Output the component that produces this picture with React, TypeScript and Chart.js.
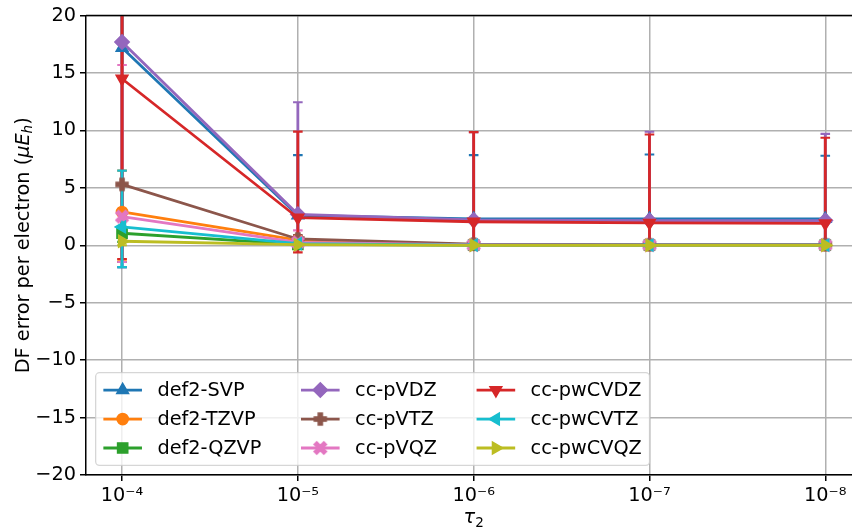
import React, { useEffect, useRef } from 'react';
import { Chart, registerables, PointElement } from 'chart.js';

Chart.register(...registerables);

const FONT = "'DejaVu Sans', sans-serif";
const FS = 19.3;

// ---- data ----
const tauValues = [1e-4, 1e-5, 1e-6, 1e-7, 1e-8];
const tauLabels = ['10\u207B\u2074', '10\u207B\u2075', '10\u207B\u2076', '10\u207B\u2077', '10\u207B\u2078'];
const yTickValues = [-20, -15, -10, -5, 0, 5, 10, 15, 20];
const xAxisLimits = [10 ** -8.152, 10 ** -3.795];
const yAxisLimits = [-20, 20];

const seriesNames = ['def2-SVP', 'def2-TZVP', 'def2-QZVP', 'cc-pVDZ', 'cc-pVTZ', 'cc-pVQZ', 'cc-pwCVDZ', 'cc-pwCVTZ', 'cc-pwCVQZ'];

const svpMean = [17.2, 2.6, 2.3, 2.3, 2.3];
const svpLow = [-1.9, 0.05, 0.05, 0.05, 0.05];
const svpHigh = [24, 7.85, 7.85, 7.9, 7.8];

const tzvpMean = [2.9, 0.45, 0.04, 0.02, 0.02];
const tzvpLow = [-1.25, 0.0, 0.0, 0.0, 0.0];
const tzvpHigh = [6.5, 0.8, 0.15, 0.1, 0.1];

const qzvpMean = [1.05, 0.08, 0.02, 0.01, 0.01];
const qzvpLow = [0.3, 0.0, 0.0, 0.0, 0.0];
const qzvpHigh = [1.6, 0.3, 0.05, 0.03, 0.03];

const pvdzMean = [17.7, 2.7, 2.2, 2.15, 2.15];
const pvdzLow = [-1.9, 0.05, 0.05, 0.05, 0.05];
const pvdzHigh = [26, 12.45, 9.85, 9.88, 9.7];

const pvtzMean = [5.3, 0.55, 0.1, 0.05, 0.05];
const pvtzLow = [-1.45, 0.0, 0.0, 0.0, 0.0];
const pvtzHigh = [22, 0.9, 0.3, 0.2, 0.2];

const pvqzMean = [2.5, 0.25, 0.03, 0.02, 0.02];
const pvqzLow = [-1.45, -0.1, 0.0, 0.0, 0.0];
const pvqzHigh = [15.7, 1.3, 0.2, 0.1, 0.1];

const pwcvdzMean = [14.5, 2.4, 2.05, 1.95, 1.9];
const pwcvdzLow = [-1.2, -0.62, 0.05, 0.05, 0.05];
const pwcvdzHigh = [30, 9.9, 9.85, 9.65, 9.36];

const pwcvtzMean = [1.6, 0.15, 0.02, 0.01, 0.01];
const pwcvtzLow = [-1.9, 0.0, 0.0, 0.0, 0.0];
const pwcvtzHigh = [6.5, 0.5, 0.05, 0.03, 0.03];

const pwcvqzMean = [0.35, 0.05, 0.0, 0.0, 0.0];
const pwcvqzLow = [0.0, 0.0, -0.02, 0.0, 0.0];
const pwcvqzHigh = [0.7, 0.2, 0.03, 0.02, 0.02];

const seriesMeans = [svpMean, tzvpMean, qzvpMean, pvdzMean, pvtzMean, pvqzMean, pwcvdzMean, pwcvtzMean, pwcvqzMean];
const seriesLows = [svpLow, tzvpLow, qzvpLow, pvdzLow, pvtzLow, pvqzLow, pwcvdzLow, pwcvtzLow, pwcvqzLow];
const seriesHighs = [svpHigh, tzvpHigh, qzvpHigh, pvdzHigh, pvtzHigh, pvqzHigh, pwcvdzHigh, pwcvtzHigh, pwcvqzHigh];

// ---- styles ----
const seriesColors = ['#1f77b4', '#ff7f0e', '#2ca02c', '#9467bd', '#8c564b', '#e377c2', '#d62728', '#17becf', '#bcbd22'];
const seriesMarkers = ['triangle', 'circle', 'rect', 'rectRot', 'plus', 'x', 'triangle', 'triangle', 'triangle'];
const markerRotation = [0, 0, 0, 0, 0, 0, 180, 270, 90];
const markerRadius = [6.8, 5.6, 7.2, 7.2, 6, 6, 6.8, 6.8, 6.8];
const LINE_W = 2.8;

function makeFilledMarker(color: string, kind: string) {
  const c = document.createElement('canvas');
  c.width = 18;
  c.height = 18;
  const g = c.getContext('2d')!;
  g.fillStyle = color;
  g.translate(9, 9);
  if (kind === 'x') g.rotate(Math.PI / 4);
  const L = kind === 'x' ? 7.6 : 6.7;
  const t = kind === 'x' ? 2.6 : 2.8;
  g.fillRect(-L, -t, 2 * L, 2 * t);
  g.fillRect(-t, -L, 2 * t, 2 * L);
  return c;
}

const errorBarPlugin = {
  id: 'errorBars',
  beforeDatasetsDraw(chart: any) {
    const { ctx, chartArea: a, scales } = chart;
    const xs = scales.x;
    const ys = scales.y;
    ctx.save();
    ctx.beginPath();
    ctx.rect(a.left, a.top, a.right - a.left, a.bottom - a.top);
    ctx.clip();
    chart.data.datasets.forEach((ds: any) => {
      ds.data.forEach((pt: any, j: number) => {
        const x = xs.getPixelForValue(pt.x);
        const yl = ys.getPixelForValue(ds.errLow[j]);
        const yh = ys.getPixelForValue(ds.errHigh[j]);
        ctx.strokeStyle = ds.borderColor;
        ctx.lineWidth = LINE_W;
        ctx.beginPath();
        ctx.moveTo(x, yl);
        ctx.lineTo(x, yh);
        ctx.stroke();
        ctx.lineWidth = 2.1;
        ctx.beginPath();
        ctx.moveTo(x - 4.8, yl);
        ctx.lineTo(x + 4.8, yl);
        ctx.moveTo(x - 4.8, yh);
        ctx.lineTo(x + 4.8, yh);
        ctx.stroke();
      });
    });
    ctx.restore();
  },
};

const framePlugin = {
  id: 'frameAndLabels',
  afterDatasetsDraw(chart: any) {
    const { ctx, chartArea: a } = chart;
    ctx.save();
    ctx.strokeStyle = '#000';
    ctx.lineWidth = 1.5;
    ctx.beginPath();
    ctx.moveTo(a.left, a.top);
    ctx.lineTo(a.right, a.top);
    ctx.stroke();

    // legend (matplotlib-like geometry, 3 columns, column-major)
    const datasets = chart.data.datasets;
    ctx.font = `${FS}px ${FONT}`;
    const pad = 0.4 * FS;
    const hl = 2 * FS;
    const htp = 0.8 * FS;
    const cs = 2.05 * FS;
    const ls = 0.5 * FS;
    const rowH = 1.0 * FS;
    const nRows = 3;
    const nCols = Math.ceil(datasets.length / nRows);
    const colW: number[] = [];
    for (let c = 0; c < nCols; c++) {
      let w = 0;
      for (let r = 0; r < nRows; r++) {
        const ds = datasets[c * nRows + r];
        if (ds) w = Math.max(w, ctx.measureText(ds.label).width);
      }
      colW.push(w);
    }
    const boxL = a.left + 0.5 * FS;
    const boxB = a.bottom - 0.5 * FS;
    const boxH = 2 * pad + nRows * rowH + (nRows - 1) * ls;
    const boxT = boxB - boxH;
    const colStart: number[] = [];
    let cx = boxL + pad;
    for (let c = 0; c < nCols; c++) {
      colStart.push(cx);
      cx += hl + htp + colW[c] + (c < nCols - 1 ? cs : 0);
    }
    const boxW = cx + pad - boxL;
    const r = 0.2 * FS;
    ctx.beginPath();
    ctx.moveTo(boxL + r, boxT);
    ctx.arcTo(boxL + boxW, boxT, boxL + boxW, boxT + boxH, r);
    ctx.arcTo(boxL + boxW, boxT + boxH, boxL, boxT + boxH, r);
    ctx.arcTo(boxL, boxT + boxH, boxL, boxT, r);
    ctx.arcTo(boxL, boxT, boxL + boxW, boxT, r);
    ctx.closePath();
    ctx.fillStyle = 'rgba(255,255,255,0.8)';
    ctx.fill();
    ctx.strokeStyle = 'rgba(204,204,204,0.8)';
    ctx.lineWidth = 1.3;
    ctx.stroke();

    datasets.forEach((ds: any, i: number) => {
      const col = Math.floor(i / nRows);
      const row = i % nRows;
      const x0 = colStart[col];
      const y0 = boxT + pad + rowH / 2 + row * (rowH + ls);
      ctx.strokeStyle = ds.borderColor;
      ctx.lineWidth = LINE_W;
      ctx.beginPath();
      ctx.moveTo(x0, y0);
      ctx.lineTo(x0 + hl, y0);
      ctx.stroke();
      const el: any = new PointElement({
        x: x0 + hl / 2,
        y: y0,
        options: {
          pointStyle: ds.pointStyle,
          rotation: ds.pointRotation,
          radius: ds.pointRadius,
          borderWidth: ds.pointBorderWidth,
          borderColor: ds.borderColor,
          backgroundColor: ds.borderColor,
        },
      } as any);
      el.draw(ctx);
      ctx.fillStyle = '#000';
      ctx.font = `${FS}px ${FONT}`;
      ctx.textBaseline = 'middle';
      ctx.textAlign = 'left';
      ctx.fillText(ds.label, x0 + hl + htp, y0 + 1);
    });
    ctx.restore();
  },
  afterDraw(chart: any) {
    const { ctx, chartArea: a } = chart;
    ctx.save();
    ctx.fillStyle = '#000';
    ctx.textBaseline = 'alphabetic';
    ctx.textAlign = 'left';
    const normal = `${FS}px ${FONT}`;
    const ital = `italic ${FS}px ${FONT}`;
    const sub = `italic ${FS * 0.7}px ${FONT}`;
    const parts = [
      { t: 'DF error per electron (', f: normal, dy: 0 },
      { t: '\u03BCE', f: ital, dy: 0 },
      { t: 'h', f: sub, dy: FS * 0.2 },
      { t: ')', f: normal, dy: 0 },
    ];
    const widths = parts.map((p) => {
      ctx.font = p.f;
      return ctx.measureText(p.t).width;
    });
    const total = widths.reduce((s, w) => s + w, 0);
    ctx.translate(28.5, (a.top + a.bottom) / 2);
    ctx.rotate(-Math.PI / 2);
    let x = -total / 2;
    parts.forEach((p, k) => {
      ctx.font = p.f;
      ctx.fillText(p.t, x, p.dy);
      x += widths[k];
    });
    ctx.restore();

    // x label, centred between the outer ticks (axes extend slightly past the picture)
    ctx.save();
    ctx.fillStyle = '#000';
    ctx.textBaseline = 'alphabetic';
    ctx.textAlign = 'left';
    ctx.font = ital;
    const wt = ctx.measureText('\u03C4').width;
    ctx.font = `${FS * 0.7}px ${FONT}`;
    const w2 = ctx.measureText('2').width;
    const xs = chart.scales.x;
    const cxl = (xs.getPixelForValue(tauValues[0]) + xs.getPixelForValue(tauValues[tauValues.length - 1])) / 2;
    const sx = cxl - (wt + w2) / 2;
    ctx.font = ital;
    ctx.fillText('\u03C4', sx, 523);
    ctx.font = `${FS * 0.7}px ${FONT}`;
    ctx.fillText('2', sx + wt, 523 + FS * 0.2);
    ctx.restore();
  },
};

function labelForTau(v: number) {
  const idx = tauValues.findIndex((t) => Math.abs(Math.log10(t) - Math.log10(v)) < 1e-6);
  return idx >= 0 ? tauLabels[idx] : '';
}

export default function App() {
  const ref = useRef<HTMLCanvasElement>(null);
  useEffect(() => {
    const canvas = ref.current!;
    const datasets = seriesNames.map((name, i) => {
      const color = seriesColors[i];
      const m = seriesMarkers[i];
      const style = m === 'plus' || m === 'x' ? makeFilledMarker(color, m) : m;
      return {
        label: name,
        data: tauValues.map((t, j) => ({ x: t, y: seriesMeans[i][j] })),
        errLow: seriesLows[i],
        errHigh: seriesHighs[i],
        borderColor: color,
        backgroundColor: color,
        borderWidth: LINE_W,
        pointStyle: style,
        pointRadius: markerRadius[i],
        pointRotation: markerRotation[i],
        pointBorderWidth: 1.5,
        pointBackgroundColor: color,
        pointBorderColor: color,
        tension: 0,
        fill: false,
        order: seriesNames.length - 1 - i,
      };
    });
    const chart = new Chart(canvas, {
      type: 'line',
      data: { datasets } as any,
      options: {
        animation: false,
        responsive: false,
        devicePixelRatio: 1,
        layout: { autoPadding: false, padding: { top: 14, left: 0, right: 0, bottom: 0 } },
        plugins: { legend: { display: false }, tooltip: { enabled: false } },
        scales: {
          x: {
            type: 'logarithmic',
            reverse: true,
            min: xAxisLimits[0],
            max: xAxisLimits[1],
            bounds: 'data',
            afterBuildTicks: (s: any) => {
              s.ticks = tauValues.map((v) => ({ value: v }));
            },
            afterFit: (s: any) => {
              s.height = 56;
            },
            ticks: {
              autoSkip: false,
              maxRotation: 0,
              major: { enabled: false },
              color: '#000',
              padding: 3,
              font: { family: FONT, size: FS },
              callback: (v: any) => labelForTau(Number(v)),
            },
            grid: { color: '#b0b0b0', lineWidth: 1.5, tickLength: 6, tickColor: '#000', tickWidth: 1.5 },
            border: { color: '#000', width: 1.5 },
          },
          y: {
            type: 'linear',
            min: yAxisLimits[0],
            max: yAxisLimits[1],
            afterBuildTicks: (s: any) => {
              s.ticks = yTickValues.map((v) => ({ value: v }));
            },
            afterFit: (s: any) => {
              s.width = 86;
            },
            ticks: {
              color: '#000',
              padding: 4,
              font: { family: FONT, size: FS },
              callback: (v: any) => (Number(v) < 0 ? '\u2212' + Math.abs(Number(v)) : String(v)),
            },
            grid: { color: '#b0b0b0', lineWidth: 1.5, tickLength: 6, tickColor: '#000', tickWidth: 1.5 },
            border: { color: '#000', width: 1.5 },
          },
        },
      } as any,
      plugins: [errorBarPlugin, framePlugin],
    });
    return () => chart.destroy();
  }, []);
  return (
    <div style={{ position: 'fixed', left: 0, top: 0, width: 852, height: 531, overflow: 'hidden', background: '#fff' }}>
      <canvas ref={ref} width={852} height={531} style={{ display: 'block' }} />
    </div>
  );
}
